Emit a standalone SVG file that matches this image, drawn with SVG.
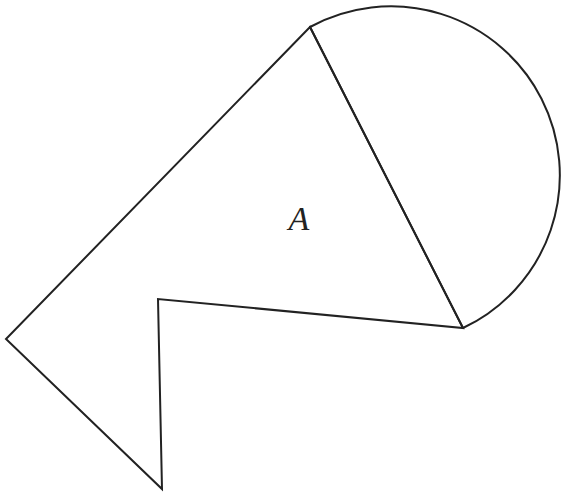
<svg xmlns="http://www.w3.org/2000/svg" width="561" height="494" viewBox="0 0 561 494">
<style>
.ln{fill:none;stroke:#222;stroke-width:2;stroke-linejoin:miter;stroke-linecap:round}
.lbl{font-family:"Liberation Serif","DejaVu Serif",serif;font-style:italic;font-size:34px;fill:#222}
</style>
<rect width="561" height="494" fill="#fff"/>
<g id="figure">
<path class="ln" d="M310,27 L6,339 L162,489 L158,299 L463,328 Z"/>
<path class="ln" d="M310,27 A168.9,168.9 0 1 1 463,328"/>
<line class="ln" x1="310" y1="27" x2="463" y2="328"/>
</g>
<g id="label">
<text class="lbl" x="299" y="230" text-anchor="middle">A</text>
</g>
</svg>
